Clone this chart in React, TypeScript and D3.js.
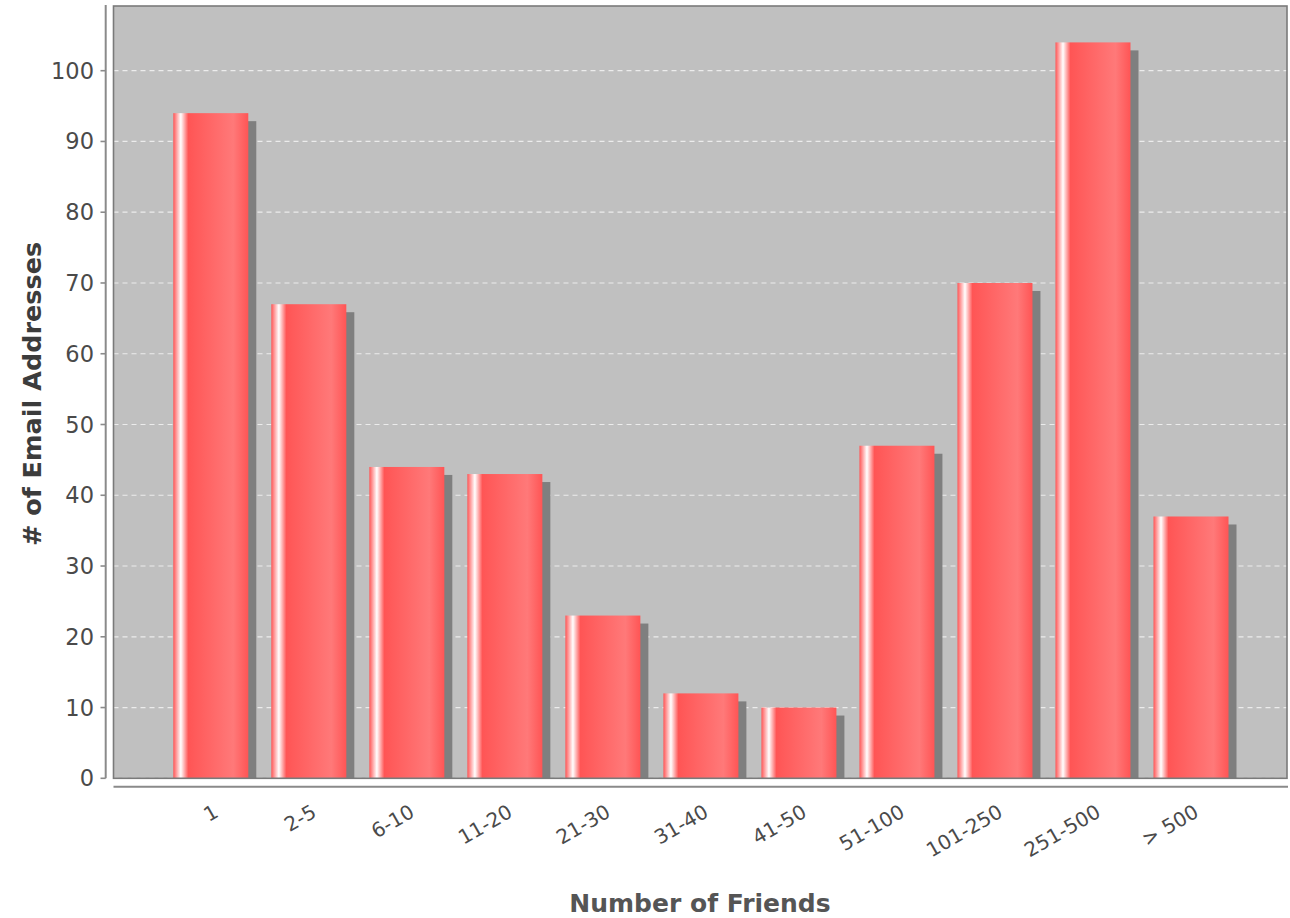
import React from "react";
import * as d3 from "d3";

const categories = ["1", "2-5", "6-10", "11-20", "21-30", "31-40", "41-50", "51-100", "101-250", "251-500", "> 500"];
const values = [94, 67, 44, 43, 23, 12, 10, 47, 70, 104, 37];
const yTicks = [0, 10, 20, 30, 40, 50, 60, 70, 80, 90, 100];

const W = 1290;
const H = 918;
const plot = { left: 113.5, top: 6, right: 1287, bottom: 778.3 };
const FONT = "'DejaVu Sans', Verdana, sans-serif";

export default function App() {
  const y = d3.scaleLinear().domain([0, 100]).range([plot.bottom, 70.7]);
  const x = d3
    .scaleBand<string>()
    .domain(categories)
    .range([173.3, 1228.5])
    .paddingInner(0.235)
    .paddingOuter(0);
  const bw = x.bandwidth();
  const shadow = 8;

  return (
    <svg
      width={W}
      height={H}
      style={{ position: "absolute", left: 0, top: 0, background: "#ffffff" }}
      fontFamily={FONT}
    >
      <defs>
        <linearGradient id="barGrad" x1="0" x2="1" y1="0" y2="0">
          <stop offset="0" stopColor="#ff5555" />
          <stop offset="0.1" stopColor="#ffffff" />
          <stop offset="0.2" stopColor="#ff5555" />
          <stop offset="0.8" stopColor="#ff7979" />
          <stop offset="1" stopColor="#ff5555" />
        </linearGradient>
        <clipPath id="plotClip">
          <rect x={plot.left} y={plot.top} width={plot.right - plot.left} height={plot.bottom - plot.top} />
        </clipPath>
      </defs>

      {/* plot background */}
      <rect
        x={plot.left}
        y={plot.top}
        width={plot.right - plot.left}
        height={plot.bottom - plot.top}
        fill="#c0c0c0"
      />

      {/* gridlines */}
      {yTicks.map((t) => (
        <line
          key={"g" + t}
          x1={plot.left}
          x2={plot.right}
          y1={y(t)}
          y2={y(t)}
          stroke="#ececec"
          strokeWidth={1.2}
          strokeDasharray="5,4"
        />
      ))}

      {/* bars */}
      <g clipPath="url(#plotClip)">
        {categories.map((c, i) => {
          const x0 = x(c) as number;
          const top = y(values[i]);
          return (
            <rect
              key={"s" + c}
              x={x0 + shadow}
              y={top + shadow}
              width={bw}
              height={Math.max(0, plot.bottom - top - shadow)}
              fill="#7f7f7f"
            />
          );
        })}
        {categories.map((c, i) => {
          const x0 = x(c) as number;
          const top = y(values[i]);
          return (
            <rect
              key={"b" + c}
              x={x0}
              y={top}
              width={bw}
              height={plot.bottom - top}
              fill="url(#barGrad)"
            />
          );
        })}
      </g>

      {/* plot border */}
      <rect
        x={plot.left}
        y={plot.top}
        width={plot.right - plot.left}
        height={plot.bottom - plot.top}
        fill="none"
        stroke="#7a7a7a"
        strokeWidth={1.6}
      />

      {/* y axis */}
      <line x1={105.7} x2={105.7} y1={5} y2={plot.bottom} stroke="#8a8a8a" strokeWidth={2} />
      {yTicks.map((t) => (
        <g key={"t" + t}>
          <line x1={100.5} x2={105.7} y1={y(t)} y2={y(t)} stroke="#8a8a8a" strokeWidth={1.6} />
          <text
            x={94}
            y={y(t)}
            textAnchor="end"
            dominantBaseline="central"
            fontSize={22.5}
            fill="#4a4a4a"
          >
            {t}
          </text>
        </g>
      ))}

      {/* x axis */}
      <line x1={plot.left} x2={plot.right + 1} y1={786.7} y2={786.7} stroke="#8a8a8a" strokeWidth={2} />
      {categories.map((c) => {
        const cx = (x(c) as number) + bw / 2 + 9;
        const cy = 816;
        return (
          <text
            key={"l" + c}
            x={cx}
            y={cy}
            textAnchor="end"
            fontSize={20}
            fill="#4a4a4a"
            transform={`rotate(-30, ${cx}, ${cy})`}
          >
            {c}
          </text>
        );
      })}

      {/* axis titles */}
      <text
        x={700}
        y={912}
        textAnchor="middle"
        fontSize={25}
        fontWeight="bold"
        fill="#555555"
      >
        Number of Friends
      </text>
      <text
        transform={`translate(41, 394) rotate(-90)`}
        textAnchor="middle"
        fontSize={25.5}
        fontWeight="bold"
        fill="#3c3c3c"
      >
        # of Email Addresses
      </text>
    </svg>
  );
}
